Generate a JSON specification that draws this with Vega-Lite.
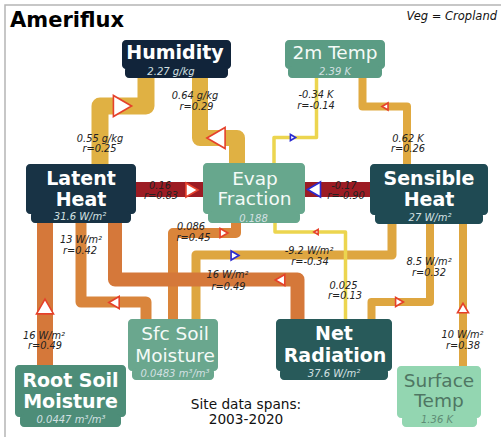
{
  "$schema": "https://vega.github.io/schema/vega-lite/v6.json",
  "width": 501,
  "height": 437,
  "padding": 0,
  "autosize": {"type": "none"},
  "background": "white",
  "config": {"view": {"stroke": null}, "font": "DejaVu Sans"},
  "datasets": {
    "frame": [{"x": 5, "x2": 540, "y": 5, "y2": 470}],
    "pipes": [
      {"pipe": "P1", "i": 0, "x": 146, "y": 70}, {"pipe": "P1", "i": 1, "x": 146, "y": 106}, {"pipe": "P1", "i": 2, "x": 100, "y": 106}, {"pipe": "P1", "i": 3, "x": 100, "y": 170},
      {"pipe": "P2", "i": 0, "x": 200, "y": 70}, {"pipe": "P2", "i": 1, "x": 200, "y": 138}, {"pipe": "P2", "i": 2, "x": 237, "y": 138}, {"pipe": "P2", "i": 3, "x": 237, "y": 170},
      {"pipe": "P4", "i": 0, "x": 362.5, "y": 70}, {"pipe": "P4", "i": 1, "x": 362.5, "y": 106.5}, {"pipe": "P4", "i": 2, "x": 407, "y": 106.5}, {"pipe": "P4", "i": 3, "x": 407, "y": 170},
      {"pipe": "P5", "i": 0, "x": 130, "y": 189.5}, {"pipe": "P5", "i": 1, "x": 210, "y": 189.5},
      {"pipe": "P6", "i": 0, "x": 300, "y": 189.5}, {"pipe": "P6", "i": 1, "x": 376, "y": 189.5},
      {"pipe": "P7", "i": 0, "x": 45, "y": 215}, {"pipe": "P7", "i": 1, "x": 45, "y": 370},
      {"pipe": "P8", "i": 0, "x": 81, "y": 215}, {"pipe": "P8", "i": 1, "x": 81, "y": 302}, {"pipe": "P8", "i": 2, "x": 146, "y": 302}, {"pipe": "P8", "i": 3, "x": 146, "y": 325},
      {"pipe": "P10", "i": 0, "x": 236, "y": 215}, {"pipe": "P10", "i": 1, "x": 236, "y": 233}, {"pipe": "P10", "i": 2, "x": 173, "y": 233}, {"pipe": "P10", "i": 3, "x": 173, "y": 325},
      {"pipe": "P11", "i": 0, "x": 392, "y": 218}, {"pipe": "P11", "i": 1, "x": 392, "y": 255}, {"pipe": "P11", "i": 2, "x": 196, "y": 255}, {"pipe": "P11", "i": 3, "x": 196, "y": 325},
      {"pipe": "P9", "i": 0, "x": 115, "y": 215}, {"pipe": "P9", "i": 1, "x": 115, "y": 279.5}, {"pipe": "P9", "i": 2, "x": 297.5, "y": 279.5}, {"pipe": "P9", "i": 3, "x": 297.5, "y": 325},
      {"pipe": "P13", "i": 0, "x": 430, "y": 218}, {"pipe": "P13", "i": 1, "x": 430, "y": 302}, {"pipe": "P13", "i": 2, "x": 371.5, "y": 302}, {"pipe": "P13", "i": 3, "x": 371.5, "y": 325},
      {"pipe": "P14", "i": 0, "x": 463, "y": 218}, {"pipe": "P14", "i": 1, "x": 463, "y": 372},
      {"pipe": "P3", "i": 0, "x": 316.5, "y": 70}, {"pipe": "P3", "i": 1, "x": 316.5, "y": 137.5}, {"pipe": "P3", "i": 2, "x": 274, "y": 137.5}, {"pipe": "P3", "i": 3, "x": 274, "y": 170},
      {"pipe": "P12", "i": 0, "x": 275, "y": 215}, {"pipe": "P12", "i": 1, "x": 275, "y": 232}, {"pipe": "P12", "i": 2, "x": 345.5, "y": 232}, {"pipe": "P12", "i": 3, "x": 345.5, "y": 325}
    ],
    "arrows": [
      {"pipe": "P1", "dir": "right", "sign": "pos", "x": 122.5, "y": 106},
      {"pipe": "P2", "dir": "left", "sign": "pos", "x": 216, "y": 138},
      {"pipe": "P3", "dir": "right", "sign": "neg", "x": 293, "y": 137.5},
      {"pipe": "P4", "dir": "left", "sign": "pos", "x": 385, "y": 106.5},
      {"pipe": "P5", "dir": "right", "sign": "pos", "x": 192, "y": 190},
      {"pipe": "P6", "dir": "left", "sign": "neg", "x": 314, "y": 189.5},
      {"pipe": "P7", "dir": "up", "sign": "pos", "x": 45, "y": 306.5},
      {"pipe": "P8", "dir": "left", "sign": "pos", "x": 114, "y": 302.5},
      {"pipe": "P9", "dir": "left", "sign": "pos", "x": 280, "y": 280},
      {"pipe": "P10", "dir": "right", "sign": "pos", "x": 224, "y": 233},
      {"pipe": "P11", "dir": "right", "sign": "neg", "x": 235, "y": 255.5},
      {"pipe": "P12", "dir": "left", "sign": "pos", "x": 316, "y": 232},
      {"pipe": "P13", "dir": "right", "sign": "pos", "x": 399.5, "y": 302},
      {"pipe": "P14", "dir": "up", "sign": "pos", "x": 463, "y": 308}
    ],
    "nodes": [
      {"node": "Humidity", "part": "main", "x": 122, "x2": 231, "y": 40, "y2": 69},
      {"node": "Humidity", "part": "tab", "x": 125, "x2": 228, "y": 66, "y2": 78},
      {"node": "2m Temp", "part": "main", "x": 285, "x2": 385, "y": 40, "y2": 69},
      {"node": "2m Temp", "part": "tab", "x": 288, "x2": 382, "y": 66, "y2": 78},
      {"node": "Latent Heat", "part": "main", "x": 26, "x2": 136, "y": 164, "y2": 214},
      {"node": "Latent Heat", "part": "tab", "x": 31, "x2": 131, "y": 211, "y2": 223},
      {"node": "Evap Fraction", "part": "main", "x": 203, "x2": 305, "y": 163, "y2": 214},
      {"node": "Evap Fraction", "part": "tab", "x": 208, "x2": 300, "y": 211, "y2": 223},
      {"node": "Sensible Heat", "part": "main", "x": 370, "x2": 488, "y": 164, "y2": 215},
      {"node": "Sensible Heat", "part": "tab", "x": 375, "x2": 483, "y": 212, "y2": 224},
      {"node": "Sfc Soil Moisture", "part": "main", "x": 128, "x2": 218, "y": 319, "y2": 371},
      {"node": "Sfc Soil Moisture", "part": "tab", "x": 132, "x2": 214, "y": 368, "y2": 380},
      {"node": "Root Soil Moisture", "part": "main", "x": 15, "x2": 126, "y": 365, "y2": 417},
      {"node": "Root Soil Moisture", "part": "tab", "x": 20, "x2": 121, "y": 414, "y2": 427},
      {"node": "Net Radiation", "part": "main", "x": 276, "x2": 392, "y": 319, "y2": 371},
      {"node": "Net Radiation", "part": "tab", "x": 280, "x2": 388, "y": 368, "y2": 380},
      {"node": "Surface Temp", "part": "main", "x": 397, "x2": 481, "y": 366, "y2": 418},
      {"node": "Surface Temp", "part": "tab", "x": 402, "x2": 477, "y": 415, "y2": 427}
    ],
    "nodetext": [
      {"node": "Humidity", "role": "title", "text": "Humidity", "x": 175, "y": 58.5},
      {"node": "Humidity", "role": "unit", "text": "2.27 g/kg", "x": 171, "y": 75},
      {"node": "2m Temp", "role": "title", "text": "2m Temp", "x": 335, "y": 59},
      {"node": "2m Temp", "role": "unit", "text": "2.39 K", "x": 335, "y": 74.5},
      {"node": "Latent Heat", "role": "title", "text": "Latent", "x": 81, "y": 185},
      {"node": "Latent Heat", "role": "title", "text": "Heat", "x": 81, "y": 206},
      {"node": "Latent Heat", "role": "unit", "text": "31.6 W/m²", "x": 80, "y": 220},
      {"node": "Evap Fraction", "role": "title", "text": "Evap", "x": 255, "y": 185},
      {"node": "Evap Fraction", "role": "title", "text": "Fraction", "x": 254.5, "y": 205},
      {"node": "Evap Fraction", "role": "unit", "text": "0.188", "x": 253.5, "y": 221.5},
      {"node": "Sensible Heat", "role": "title", "text": "Sensible", "x": 429, "y": 185},
      {"node": "Sensible Heat", "role": "title", "text": "Heat", "x": 429, "y": 206},
      {"node": "Sensible Heat", "role": "unit", "text": "27 W/m²", "x": 430, "y": 221},
      {"node": "Sfc Soil Moisture", "role": "title", "text": "Sfc Soil", "x": 175, "y": 340},
      {"node": "Sfc Soil Moisture", "role": "title", "text": "Moisture", "x": 175, "y": 361.5},
      {"node": "Sfc Soil Moisture", "role": "unit", "text": "0.0483 m³/m³", "x": 175, "y": 377},
      {"node": "Root Soil Moisture", "role": "title", "text": "Root Soil", "x": 70.5, "y": 387},
      {"node": "Root Soil Moisture", "role": "title", "text": "Moisture", "x": 70.5, "y": 408},
      {"node": "Root Soil Moisture", "role": "unit", "text": "0.0447 m³/m³", "x": 71, "y": 422.5},
      {"node": "Net Radiation", "role": "title", "text": "Net", "x": 334, "y": 340},
      {"node": "Net Radiation", "role": "title", "text": "Radiation", "x": 335, "y": 361.5},
      {"node": "Net Radiation", "role": "unit", "text": "37.6 W/m²", "x": 334, "y": 377},
      {"node": "Surface Temp", "role": "title", "text": "Surface", "x": 439, "y": 387},
      {"node": "Surface Temp", "role": "title", "text": "Temp", "x": 439, "y": 407},
      {"node": "Surface Temp", "role": "unit", "text": "1.36 K", "x": 437, "y": 422.5}
    ],
    "labels": [
      {"pipe": "P1", "text": "0.55 g/kg", "x": 100, "y": 142},
      {"pipe": "P1", "text": "r=0.25", "x": 99.5, "y": 152},
      {"pipe": "P2", "text": "0.64 g/kg", "x": 195, "y": 99},
      {"pipe": "P2", "text": "r=0.29", "x": 196.5, "y": 110},
      {"pipe": "P3", "text": "-0.34 K", "x": 316, "y": 98},
      {"pipe": "P3", "text": "r=-0.14", "x": 316, "y": 109},
      {"pipe": "P4", "text": "0.62 K", "x": 408, "y": 142},
      {"pipe": "P4", "text": "r=0.26", "x": 408, "y": 152},
      {"pipe": "P5", "text": "0.16", "x": 160, "y": 188.5},
      {"pipe": "P5", "text": "r=0.83", "x": 161, "y": 198.5},
      {"pipe": "P6", "text": "-0.17", "x": 344, "y": 188.5},
      {"pipe": "P6", "text": "r=-0.90", "x": 346, "y": 198.5},
      {"pipe": "P7", "text": "16 W/m²", "x": 44, "y": 338.5},
      {"pipe": "P7", "text": "r=0.49", "x": 45, "y": 349},
      {"pipe": "P8", "text": "13 W/m²", "x": 81, "y": 243},
      {"pipe": "P8", "text": "r=0.42", "x": 80, "y": 253.5},
      {"pipe": "P9", "text": "16 W/m²", "x": 227.5, "y": 278},
      {"pipe": "P9", "text": "r=0.49", "x": 228.5, "y": 289.5},
      {"pipe": "P10", "text": "0.086", "x": 191, "y": 230},
      {"pipe": "P10", "text": "r=0.45", "x": 193.5, "y": 241},
      {"pipe": "P11", "text": "-9.2 W/m²", "x": 309, "y": 254},
      {"pipe": "P11", "text": "r=-0.34", "x": 310, "y": 265},
      {"pipe": "P12", "text": "0.025", "x": 343.5, "y": 288.5},
      {"pipe": "P12", "text": "r=0.13", "x": 345, "y": 298.5},
      {"pipe": "P13", "text": "8.5 W/m²", "x": 429, "y": 265},
      {"pipe": "P13", "text": "r=0.32", "x": 429, "y": 276},
      {"pipe": "P14", "text": "10 W/m²", "x": 462.5, "y": 338},
      {"pipe": "P14", "text": "r=0.38", "x": 463, "y": 349}
    ],
    "notes": [
      {"role": "title", "text": "Ameriflux", "x": 10, "y": 27},
      {"role": "veg", "text": "Veg = Cropland", "x": 497, "y": 20},
      {"role": "site", "text": "Site data spans:", "x": 246, "y": 409},
      {"role": "site", "text": "2003-2020", "x": 246, "y": 424}
    ]
  },
  "encoding": {
    "x": {"field": "x", "type": "quantitative", "scale": {"domain": [0, 501], "nice": false, "zero": false}, "axis": null},
    "y": {"field": "y", "type": "quantitative", "scale": {"domain": [0, 437], "reverse": true, "nice": false, "zero": false}, "axis": null}
  },
  "resolve": {"scale": {"color": "independent", "size": "independent", "stroke": "independent", "shape": "independent"}},
  "layer": [
    {
      "data": {"name": "frame"},
      "mark": {"type": "rect", "fill": null, "fillOpacity": 0, "stroke": "#b5b5b5", "strokeWidth": 1.5, "clip": false},
      "encoding": {"x2": {"field": "x2"}, "y2": {"field": "y2"}}
    },
    {
      "data": {"name": "pipes"},
      "mark": {"type": "line", "strokeJoin": "round", "strokeCap": "butt"},
      "encoding": {
        "detail": {"field": "pipe", "type": "nominal"},
        "order": {"field": "i", "type": "quantitative"},
        "color": {"field": "pipe", "type": "nominal", "legend": null,
          "scale": {"domain": ["P1", "P2", "P4", "P5", "P6", "P7", "P8", "P10", "P11", "P9", "P13", "P14", "P3", "P12"],
                    "range": ["#e0b143", "#e0b143", "#e0a940", "#9c1c24", "#9c1c24", "#d5783a", "#d9853c", "#da853a", "#dea640", "#d5783a", "#dea640", "#dea640", "#ecd54f", "#ecd54f"]}},
        "size": {"field": "pipe", "type": "nominal", "legend": null,
          "scale": {"type": "ordinal", "domain": ["P1", "P2", "P4", "P5", "P6", "P7", "P8", "P10", "P11", "P9", "P13", "P14", "P3", "P12"],
                    "range": [17, 16, 8, 15, 15, 16, 11, 10, 9, 14, 8, 8, 3.5, 3.5]}}
      }
    },
    {
      "data": {"name": "arrows"},
      "mark": {"type": "point", "filled": true, "fill": "white", "strokeWidth": 1.6, "opacity": 1, "strokeJoin": "miter"},
      "encoding": {
        "shape": {"field": "dir", "type": "nominal", "legend": null,
          "scale": {"domain": ["right", "left", "up"], "range": ["triangle-right", "triangle-left", "triangle-up"]}},
        "stroke": {"field": "sign", "type": "nominal", "legend": null,
          "scale": {"domain": ["pos", "neg"], "range": ["#e5412b", "#2b2bd2"]}},
        "size": {"field": "pipe", "type": "nominal", "legend": null,
          "scale": {"type": "ordinal", "domain": ["P1", "P2", "P3", "P4", "P5", "P6", "P7", "P8", "P9", "P10", "P11", "P12", "P13", "P14"],
                    "range": [441, 441, 36, 49, 196, 225, 289, 144, 121, 81, 81, 25, 81, 121]}}
      }
    },
    {
      "data": {"name": "nodes"},
      "mark": {"type": "rect", "cornerRadius": 4},
      "encoding": {
        "x2": {"field": "x2"},
        "y2": {"field": "y2"},
        "color": {"field": "node", "type": "nominal", "legend": null,
          "scale": {"domain": ["Humidity", "2m Temp", "Latent Heat", "Evap Fraction", "Sensible Heat", "Sfc Soil Moisture", "Root Soil Moisture", "Net Radiation", "Surface Temp"],
                    "range": ["#11243a", "#5b9c84", "#183345", "#67a78d", "#1f4a53", "#6aa78e", "#4d8d78", "#285a5a", "#93d6b1"]}}
      }
    },
    {
      "data": {"name": "nodetext"},
      "transform": [{"filter": "datum.role == 'title' && indexof(['Humidity','Latent Heat','Sensible Heat','Net Radiation','Root Soil Moisture'], datum.node) >= 0"}],
      "mark": {"type": "text", "fontWeight": "bold", "fontSize": 19, "align": "center", "baseline": "alphabetic", "color": "white"},
      "encoding": {"text": {"field": "text"}}
    },
    {
      "data": {"name": "nodetext"},
      "transform": [{"filter": "datum.role == 'title' && indexof(['Humidity','Latent Heat','Sensible Heat','Net Radiation','Root Soil Moisture'], datum.node) < 0"}],
      "mark": {"type": "text", "fontWeight": "normal", "fontSize": 18.5, "align": "center", "baseline": "alphabetic"},
      "encoding": {
        "text": {"field": "text"},
        "color": {"condition": {"test": "datum.node == 'Surface Temp'", "value": "#4f7663"}, "value": "#f4faf7"}
      }
    },
    {
      "data": {"name": "nodetext"},
      "transform": [{"filter": "datum.role == 'unit'"}],
      "mark": {"type": "text", "fontStyle": "italic", "fontSize": 10, "align": "center", "baseline": "alphabetic"},
      "encoding": {
        "text": {"field": "text"},
        "color": {"condition": {"test": "datum.node == 'Surface Temp'", "value": "#5f8c75"}, "value": "#d3e0e2"}
      }
    },
    {
      "data": {"name": "labels"},
      "mark": {"type": "text", "fontStyle": "italic", "fontSize": 9.8, "align": "center", "baseline": "alphabetic", "color": "#222222"},
      "encoding": {"text": {"field": "text"}}
    },
    {
      "data": {"name": "notes"},
      "transform": [{"filter": "datum.role == 'title'"}],
      "mark": {"type": "text", "fontWeight": "bold", "fontSize": 21, "align": "left", "baseline": "alphabetic", "color": "#000000"},
      "encoding": {"text": {"field": "text"}}
    },
    {
      "data": {"name": "notes"},
      "transform": [{"filter": "datum.role == 'veg'"}],
      "mark": {"type": "text", "fontStyle": "italic", "fontSize": 11.5, "align": "right", "baseline": "alphabetic", "color": "#111111"},
      "encoding": {"text": {"field": "text"}}
    },
    {
      "data": {"name": "notes"},
      "transform": [{"filter": "datum.role == 'site'"}],
      "mark": {"type": "text", "fontSize": 13.7, "align": "center", "baseline": "alphabetic", "color": "#111111"},
      "encoding": {"text": {"field": "text"}}
    }
  ]
}
